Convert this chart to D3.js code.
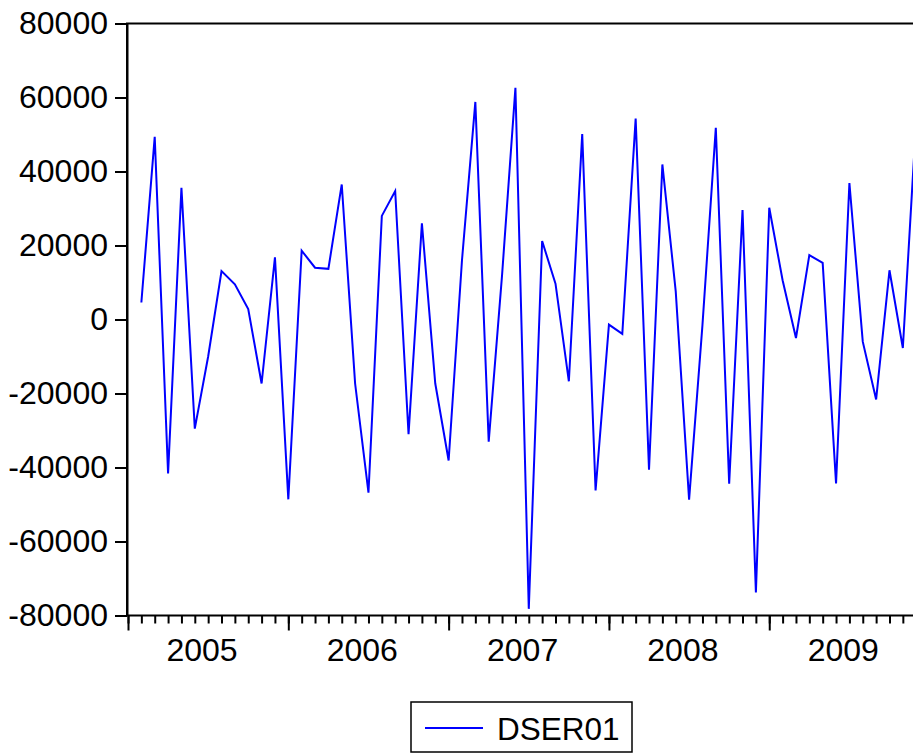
<!DOCTYPE html>
<html>
<head>
<meta charset="utf-8">
<script src="https://cdn.jsdelivr.net/npm/d3@7"></script>
<style>
  body { margin: 0; background: #fff; }
  svg { display: block; font-family: "Liberation Sans", Arial, sans-serif; }
</style>
</head>
<body>
<div class="chart"></div>
<script>
// monthly differences, 2005M02 .. 2009M12 (index 0 = 2005M01, which is NA)
var values = [
  4600, 49400, -41600, 35600, -29500, -10000, 13100, 9500, 2800, -17300, 16800,
  -48600, 18600, 14000, 13700, 36500, -17300, -46800, 28000, 34700, -31000, 26000, -17300,
  -38100, 16000, 58800, -33000, 12000, 62600, -78200, 21200, 9700, -16700, 50100, -46200,
  -1400, -3900, 54300, -40600, 41900, 7600, -48700, -1500, 51800, -44400, 29600, -73800,
  30200, 10600, -5000, 17400, 15300, -44300, 36900, -6000, -21600, 13300, -7700, 54000
];
var years = ["2005", "2006", "2007", "2008", "2009"];
var yTicks = [-80000, -60000, -40000, -20000, 0, 20000, 40000, 60000, 80000];
var seriesName = "DSER01";

var svgWidth = 913;
var svgHeight = 753;

var svg = d3.select(".chart")
  .append("svg")
  .attr("width", svgWidth)
  .attr("height", svgHeight);

// month index -> x ; plot spans Jan 2005 .. Dec 2009
var x = d3.scaleLinear().domain([0, 59]).range([128, 916.2]);
var y = d3.scaleLinear().domain([-80000, 80000]).range([615.5, 23.5]);

var data = values.map(function(v, i) { return { m: i + 1, v: v }; });

// frame
svg.append("rect")
  .attr("x", x(0) - 1)
  .attr("y", y(80000))
  .attr("width", x(59) - x(0) + 1)
  .attr("height", y(-80000) - y(80000))
  .attr("fill", "none")
  .attr("stroke", "#000")
  .attr("stroke-width", 2);

// left axis (plain hyphen for negatives, like the original)
var leftAxis = d3.axisLeft(y)
  .tickValues(yTicks)
  .tickSize(12)
  .tickSizeOuter(0)
  .tickPadding(7)
  .tickFormat(function(d) { return String(d); });

var gy = svg.append("g")
  .attr("transform", "translate(" + (x(0) - 1) + ",0)")
  .call(leftAxis);
gy.selectAll("text").attr("font-size", 32).attr("font-family", "Liberation Sans, Arial, sans-serif").attr("fill", "#000");
gy.selectAll("line").attr("stroke-width", 2);
gy.select(".domain").attr("stroke-width", 2);

// bottom axis: month ticks
var monthAxis = d3.axisBottom(x)
  .tickValues(d3.range(0, 60))
  .tickSize(8)
  .tickSizeOuter(0)
  .tickFormat("");
var gx = svg.append("g")
  .attr("transform", "translate(0," + y(-80000) + ")")
  .call(monthAxis);
gx.selectAll("line").attr("stroke-width", 2);
gx.select(".domain").remove();

// year ticks
var yearAxis = d3.axisBottom(x)
  .tickValues([0, 12, 24, 36, 48])
  .tickSize(15)
  .tickSizeOuter(0)
  .tickFormat("");
var gyear = svg.append("g")
  .attr("transform", "translate(0," + y(-80000) + ")")
  .call(yearAxis);
gyear.selectAll("line").attr("stroke-width", 2);
gyear.select(".domain").remove();

// year labels, centred on each year's months
var labelAxis = d3.axisBottom(x)
  .tickValues(years.map(function(d, i) { return i * 12 + 5.5; }))
  .tickSize(0)
  .tickPadding(23)
  .tickFormat(function(d, i) { return years[i]; });
var gl = svg.append("g")
  .attr("transform", "translate(0," + y(-80000) + ")")
  .call(labelAxis);
gl.select(".domain").remove();
gl.selectAll("text").attr("font-size", 32).attr("font-family", "Liberation Sans, Arial, sans-serif").attr("fill", "#000");

// series line
var line = d3.line()
  .x(function(d) { return x(d.m); })
  .y(function(d) { return y(d.v); });

svg.append("path")
  .datum(data)
  .attr("d", line)
  .attr("fill", "none")
  .attr("stroke", "#0000ff")
  .attr("stroke-width", 2)
  .attr("stroke-linejoin", "miter");

// legend
var legend = svg.append("g");
legend.append("rect")
  .attr("x", 411).attr("y", 702)
  .attr("width", 221).attr("height", 50)
  .attr("fill", "#fff")
  .attr("stroke", "#000")
  .attr("stroke-width", 1.5);
legend.append("line")
  .attr("x1", 425).attr("x2", 483)
  .attr("y1", 728).attr("y2", 728)
  .attr("stroke", "#0000ff")
  .attr("stroke-width", 2);
legend.append("text")
  .attr("x", 497).attr("y", 740)
  .attr("font-size", 31.5)
  .attr("fill", "#000")
  .text(seriesName);
</script>
</body>
</html>
